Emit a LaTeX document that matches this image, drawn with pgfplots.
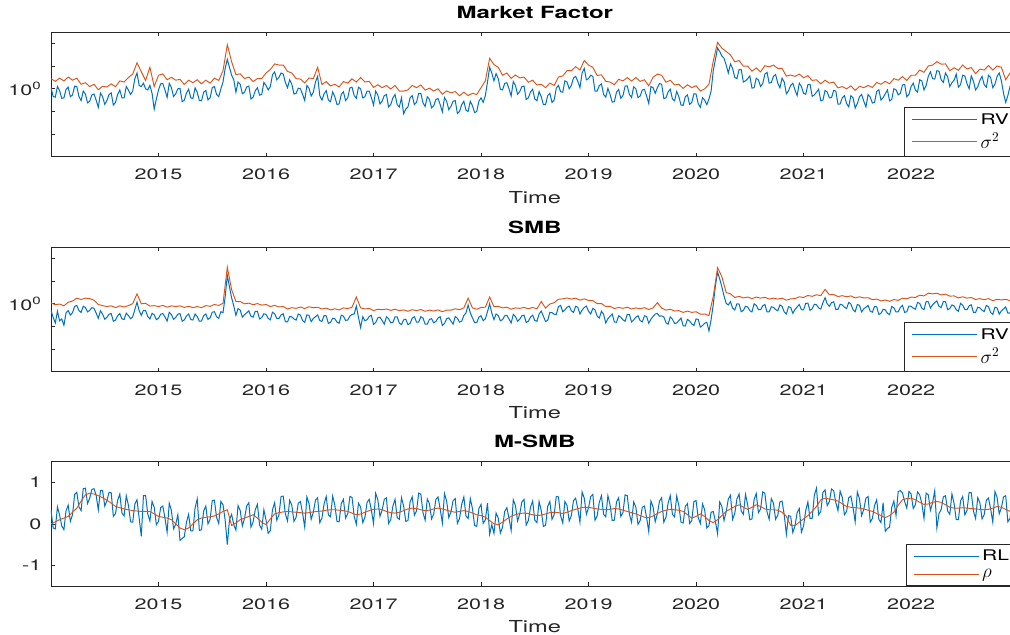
\documentclass[border=0pt]{standalone}
\usepackage{fontspec}
\setmainfont{TeX Gyre Heros}[FakeStretch=1.43]
\usepackage{pgfplots}
\usepackage{pgfplotstable}
\pgfplotsset{compat=1.18}
\definecolor{mblue}{HTML}{0072BD}
\definecolor{morange}{HTML}{D95319}
\definecolor{axgray}{HTML}{262626}

% Market factor: log10 of RV (b) and sigma^2 (o); nan = no sigma^2 sample
\pgfplotstableread{
x b o
2014.00 0.05 0.45
2014.02 -0.34 nan
2014.04 -0.37 0.33
2014.06 0.10 nan
2014.08 -0.08 0.47
2014.10 -0.42 nan
2014.12 -0.40 0.35
2014.14 -0.02 nan
2014.16 0.07 0.52
2014.18 -0.35 nan
2014.20 -0.27 0.38
2014.22 0.12 nan
2014.24 0.10 0.47
2014.26 -0.34 nan
2014.28 -0.52 0.20
2014.30 -0.10 nan
2014.32 -0.23 0.27
2014.34 -0.62 nan
2014.36 -0.55 0.10
2014.38 -0.27 nan
2014.40 -0.23 0.20
2014.42 -0.50 nan
2014.44 -0.82 -0.04
2014.46 -0.19 nan
2014.48 -0.35 0.11
2014.50 -0.69 nan
2014.52 -0.52 0.08
2014.54 -0.25 nan
2014.56 -0.18 0.22
2014.58 -0.72 nan
2014.60 -0.60 0.09
2014.62 -0.25 nan
2014.64 -0.05 0.35
2014.66 -0.40 nan
2014.68 -0.40 0.30
2014.70 0.10 nan
2014.72 -0.05 0.50
2014.74 -0.25 nan
2014.76 -0.10 0.65
2014.78 0.45 nan
2014.80 0.70 1.15
2014.82 0.15 nan
2014.84 0.10 0.75
2014.86 0.25 nan
2014.88 0.00 0.37
2014.90 -0.05 nan
2014.92 0.15 0.95
2014.94 -0.20 nan
2014.96 -0.90 0.10
2014.98 -0.45 nan
2015.00 -0.05 0.60
2015.02 0.22 nan
2015.04 0.23 0.66
2015.06 -0.05 nan
2015.08 -0.38 0.40
2015.10 0.24 nan
2015.12 0.05 0.51
2015.14 -0.34 nan
2015.16 -0.22 0.38
2015.18 0.00 nan
2015.20 0.02 0.42
2015.22 -0.57 nan
2015.24 -0.50 0.19
2015.26 -0.19 nan
2015.28 -0.02 0.38
2015.30 -0.40 nan
2015.32 -0.43 0.27
2015.34 0.04 nan
2015.36 -0.15 0.40
2015.38 -0.52 nan
2015.40 -0.53 0.22
2015.42 -0.15 nan
2015.44 -0.07 0.38
2015.46 -0.49 nan
2015.48 -0.40 0.25
2015.50 0.05 nan
2015.52 0.10 0.47
2015.54 -0.25 nan
2015.56 -0.35 0.37
2015.58 0.00 nan
2015.60 0.30 0.80
2015.62 0.90 nan
2015.64 1.30 1.95
2015.66 0.95 nan
2015.68 0.60 1.20
2015.70 0.40 nan
2015.72 -0.15 0.63
2015.74 0.30 nan
2015.76 0.20 0.66
2015.78 -0.22 nan
2015.80 -0.15 0.45
2015.82 0.08 nan
2015.84 0.12 0.52
2015.86 -0.45 nan
2015.88 -0.37 0.32
2015.90 -0.09 nan
2015.92 0.05 0.45
2015.94 -0.28 nan
2015.96 -0.25 0.45
2015.98 0.28 nan
2016.00 0.15 0.70
2016.02 -0.05 nan
2016.04 0.10 0.85
2016.06 0.62 nan
2016.08 0.75 1.10
2016.10 0.40 nan
2016.12 0.50 1.05
2016.14 0.70 nan
2016.16 0.65 1.05
2016.18 0.28 nan
2016.20 0.05 0.77
2016.22 0.40 nan
2016.24 0.20 0.70
2016.26 -0.23 nan
2016.28 -0.20 0.45
2016.30 0.03 nan
2016.32 0.00 0.43
2016.34 -0.24 nan
2016.36 -0.52 0.26
2016.38 0.15 nan
2016.40 0.02 0.48
2016.42 -0.32 nan
2016.44 -0.15 0.45
2016.46 0.30 nan
2016.48 0.55 0.95
2016.50 -0.30 nan
2016.52 -0.50 0.19
2016.54 -0.22 nan
2016.56 -0.08 0.32
2016.58 -0.50 nan
2016.60 -0.57 0.13
2016.62 -0.14 nan
2016.64 -0.35 0.20
2016.66 -0.69 nan
2016.68 -0.67 0.08
2016.70 -0.25 nan
2016.72 -0.13 0.32
2016.74 -0.52 nan
2016.76 -0.40 0.25
2016.78 0.04 nan
2016.80 0.07 0.44
2016.82 -0.30 nan
2016.84 -0.42 0.30
2016.86 0.07 nan
2016.88 0.00 0.50
2016.90 -0.40 nan
2016.92 -0.35 0.30
2016.94 -0.10 nan
2016.96 -0.10 0.33
2016.98 -0.39 nan
2017.00 -0.72 0.06
2017.02 -0.10 nan
2017.04 -0.28 0.18
2017.06 -0.67 nan
2017.08 -0.55 0.05
2017.10 -0.30 nan
2017.12 -0.25 0.15
2017.14 -0.80 nan
2017.16 -0.70 -0.01
2017.18 -0.40 nan
2017.20 -0.25 0.15
2017.22 -0.70 nan
2017.24 -0.80 -0.10
2017.26 -0.40 nan
2017.28 -1.10 -0.10
2017.30 -0.90 nan
2017.32 -0.80 -0.05
2017.34 -0.40 nan
2017.36 -0.30 0.15
2017.38 -0.70 nan
2017.40 -0.60 0.05
2017.42 -0.20 nan
2017.44 -0.20 0.17
2017.46 -0.62 nan
2017.48 -0.78 -0.06
2017.50 -0.35 nan
2017.52 -0.47 0.03
2017.54 -0.84 nan
2017.56 -0.75 -0.10
2017.58 -0.47 nan
2017.60 -0.43 0.00
2017.62 -0.70 nan
2017.64 -1.02 -0.24
2017.66 -0.39 nan
2017.68 -0.55 -0.09
2017.70 -0.92 nan
2017.72 -0.78 -0.18
2017.74 -0.55 nan
2017.76 -0.52 -0.12
2017.78 -1.09 nan
2017.80 -1.00 -0.31
2017.82 -0.70 nan
2017.84 -0.55 -0.15
2017.86 -0.95 nan
2017.88 -1.00 -0.30
2017.90 -0.55 nan
2017.92 -0.75 -0.20
2017.94 -1.05 nan
2017.96 -1.00 -0.25
2017.98 -0.55 nan
2018.00 -0.40 0.05
2018.02 -0.60 nan
2018.04 -0.30 0.35
2018.06 0.30 nan
2018.08 0.95 1.35
2018.10 0.70 nan
2018.12 0.35 1.07
2018.14 0.67 nan
2018.16 0.45 0.95
2018.18 -0.03 nan
2018.20 -0.05 0.60
2018.22 0.24 nan
2018.24 0.27 0.70
2018.26 0.00 nan
2018.28 -0.32 0.46
2018.30 0.32 nan
2018.32 0.15 0.61
2018.34 -0.24 nan
2018.36 -0.12 0.48
2018.38 0.10 nan
2018.40 0.12 0.52
2018.42 -0.47 nan
2018.44 -0.40 0.29
2018.46 -0.14 nan
2018.48 -0.02 0.38
2018.50 -0.45 nan
2018.52 -0.53 0.17
2018.54 -0.12 nan
2018.56 -0.35 0.20
2018.58 -0.70 nan
2018.60 -0.70 0.05
2018.62 -0.30 nan
2018.64 -0.20 0.25
2018.66 -0.60 nan
2018.68 -0.50 0.15
2018.70 0.03 nan
2018.72 0.15 0.52
2018.74 -0.13 nan
2018.76 -0.15 0.57
2018.78 0.35 nan
2018.80 0.30 0.80
2018.82 0.00 nan
2018.84 0.15 0.80
2018.86 0.48 nan
2018.88 0.55 0.98
2018.90 0.33 nan
2018.92 0.05 0.83
2018.94 0.70 nan
2018.96 0.90 1.25
2018.98 0.40 nan
2019.00 0.45 1.05
2019.02 0.60 nan
2019.04 0.55 0.95
2019.06 -0.10 nan
2019.08 -0.10 0.59
2019.10 0.14 nan
2019.12 0.22 0.62
2019.14 -0.25 nan
2019.16 -0.37 0.33
2019.18 0.02 nan
2019.20 -0.25 0.30
2019.22 -0.59 nan
2019.24 -0.57 0.18
2019.26 -0.15 nan
2019.28 -0.03 0.42
2019.30 -0.42 nan
2019.32 -0.30 0.35
2019.34 0.12 nan
2019.36 0.13 0.50
2019.38 -0.25 nan
2019.40 -0.38 0.34
2019.42 0.09 nan
2019.44 0.00 0.50
2019.46 -0.39 nan
2019.48 -0.32 0.33
2019.50 -0.05 nan
2019.52 -0.03 0.40
2019.54 -0.32 nan
2019.56 -0.65 0.13
2019.58 0.10 nan
2019.60 0.05 0.51
2019.62 -0.20 nan
2019.64 0.05 0.65
2019.66 0.23 nan
2019.68 0.20 0.60
2019.70 -0.43 nan
2019.72 -0.40 0.29
2019.74 -0.14 nan
2019.76 -0.02 0.38
2019.78 -0.45 nan
2019.80 -0.53 0.17
2019.82 -0.12 nan
2019.84 -0.35 0.20
2019.86 -0.72 nan
2019.88 -0.73 0.02
2019.90 -0.35 nan
2019.92 -0.27 0.18
2019.94 -0.69 nan
2019.96 -0.60 0.05
2019.98 -0.22 nan
2020.00 -0.23 0.14
2020.02 -0.65 nan
2020.04 -0.82 -0.10
2020.06 -0.39 nan
2020.08 -0.50 0.00
2020.10 -0.70 nan
2020.12 -0.45 0.20
2020.14 -0.10 nan
2020.16 0.80 1.23
2020.18 1.30 nan
2020.20 1.80 2.05
2020.22 1.65 nan
2020.24 1.45 1.80
2020.26 1.35 nan
2020.28 1.05 1.65
2020.30 0.70 nan
2020.32 1.10 1.50
2020.34 0.90 nan
2020.36 0.50 1.19
2020.38 0.45 nan
2020.40 0.85 1.25
2020.42 0.85 nan
2020.44 0.30 1.00
2020.46 0.35 nan
2020.48 0.45 1.00
2020.50 0.57 nan
2020.52 0.03 0.78
2020.54 0.05 nan
2020.56 0.47 0.92
2020.58 0.39 nan
2020.60 0.10 0.75
2020.62 0.23 nan
2020.64 0.65 1.02
2020.66 0.73 nan
2020.68 0.25 0.97
2020.70 0.28 nan
2020.72 0.55 1.05
2020.74 0.63 nan
2020.76 0.25 0.90
2020.78 0.04 nan
2020.80 0.47 0.90
2020.82 0.30 nan
2020.84 -0.22 0.56
2020.86 -0.09 nan
2020.88 0.15 0.61
2020.90 0.25 nan
2020.92 -0.05 0.55
2020.94 -0.30 nan
2020.96 0.25 0.65
2020.98 0.10 nan
2021.00 -0.20 0.49
2021.02 -0.24 nan
2021.04 0.18 0.58
2021.06 0.20 nan
2021.08 -0.33 0.37
2021.10 -0.27 nan
2021.12 -0.15 0.40
2021.14 -0.02 nan
2021.16 -0.53 0.22
2021.18 -0.50 nan
2021.20 -0.07 0.38
2021.22 -0.14 nan
2021.24 -0.40 0.25
2021.26 -0.39 nan
2021.28 -0.07 0.30
2021.30 -0.10 nan
2021.32 -0.68 0.04
2021.34 -0.67 nan
2021.36 -0.40 0.10
2021.38 -0.30 nan
2021.40 -0.65 0.00
2021.42 -0.80 nan
2021.44 -0.30 0.13
2021.46 -0.40 nan
2021.48 -0.85 -0.07
2021.50 -0.65 nan
2021.52 -0.35 0.11
2021.54 -0.25 nan
2021.56 -0.55 0.05
2021.58 -0.80 nan
2021.60 -0.25 0.15
2021.62 -0.37 nan
2021.64 -0.63 0.06
2021.66 -0.60 nan
2021.68 -0.12 0.28
2021.70 -0.04 nan
2021.72 -0.50 0.20
2021.74 -0.39 nan
2021.76 -0.22 0.33
2021.78 -0.05 nan
2021.80 -0.53 0.22
2021.82 -0.47 nan
2021.84 0.00 0.45
2021.86 -0.04 nan
2021.88 -0.27 0.38
2021.90 -0.20 nan
2021.92 0.17 0.54
2021.94 0.19 nan
2021.96 -0.35 0.37
2021.98 -0.25 nan
2022.00 0.10 0.60
2022.02 0.25 nan
2022.04 -0.05 0.60
2022.06 -0.15 nan
2022.08 0.40 0.83
2022.10 0.35 nan
2022.12 -0.05 0.73
2022.14 0.15 nan
2022.16 0.55 1.01
2022.18 0.75 nan
2022.20 0.45 1.05
2022.22 0.43 nan
2022.24 0.80 1.20
2022.26 0.78 nan
2022.28 0.40 1.09
2022.30 0.28 nan
2022.32 0.70 1.10
2022.34 0.53 nan
2022.36 0.10 0.80
2022.38 0.27 nan
2022.40 0.38 0.93
2022.42 0.65 nan
2022.44 0.07 0.82
2022.46 0.19 nan
2022.48 0.60 1.05
2022.50 0.57 nan
2022.52 0.23 0.88
2022.54 0.00 nan
2022.56 0.57 0.94
2022.58 0.34 nan
2022.60 -0.05 0.67
2022.62 0.09 nan
2022.64 0.37 0.87
2022.66 0.55 nan
2022.68 0.18 0.83
2022.70 0.07 nan
2022.72 0.60 1.03
2022.74 0.50 nan
2022.76 0.05 0.83
2022.78 0.20 nan
2022.80 0.55 1.01
2022.82 0.70 nan
2022.84 0.35 0.95
2022.86 -0.20 nan
2022.88 -0.60 0.40
2022.90 -0.30 nan
2022.92 0.10 0.70
2022.94 0.30 nan
2022.96 0.20 0.75
}\mkt

% SMB
\pgfplotstableread{
x b o
2014.00 -0.30 0.04
2014.02 -0.60 nan
2014.04 -0.85 -0.04
2014.06 -0.33 nan
2014.08 -0.75 -0.01
2014.10 -0.67 nan
2014.12 -0.95 -0.09
2014.14 -0.40 nan
2014.16 -0.30 0.07
2014.18 -0.50 nan
2014.20 -0.39 0.12
2014.22 -0.11 nan
2014.24 -0.07 0.25
2014.26 -0.30 nan
2014.28 -0.38 0.19
2014.30 -0.11 nan
2014.32 -0.16 0.25
2014.34 -0.36 nan
2014.36 -0.29 0.23
2014.38 -0.17 nan
2014.40 -0.20 0.16
2014.42 -0.41 nan
2014.44 -0.64 -0.03
2014.46 -0.31 nan
2014.48 -0.46 -0.08
2014.50 -0.68 nan
2014.52 -0.60 -0.12
2014.54 -0.46 nan
2014.56 -0.43 -0.09
2014.58 -0.77 nan
2014.60 -0.72 -0.17
2014.62 -0.53 nan
2014.64 -0.43 -0.09
2014.66 -0.67 nan
2014.68 -0.69 -0.14
2014.70 -0.41 nan
2014.72 -0.52 -0.08
2014.74 -0.66 nan
2014.76 -0.58 0.01
2014.78 -0.25 nan
2014.80 0.07 0.44
2014.82 -0.30 nan
2014.84 -0.51 0.00
2014.86 -0.29 nan
2014.88 -0.30 0.02
2014.90 -0.56 nan
2014.92 -0.67 -0.10
2014.94 -0.42 nan
2014.96 -0.49 -0.08
2014.98 -0.70 nan
2015.00 -0.64 -0.12
2015.02 -0.46 nan
2015.04 -0.43 -0.07
2015.06 -0.58 nan
2015.08 -0.76 -0.15
2015.10 -0.38 nan
2015.12 -0.47 -0.09
2015.14 -0.69 nan
2015.16 -0.60 -0.12
2015.18 -0.46 nan
2015.20 -0.43 -0.09
2015.22 -0.77 nan
2015.24 -0.71 -0.16
2015.26 -0.54 nan
2015.28 -0.45 -0.11
2015.30 -0.69 nan
2015.32 -0.72 -0.17
2015.34 -0.45 nan
2015.36 -0.56 -0.12
2015.38 -0.77 nan
2015.40 -0.76 -0.17
2015.42 -0.52 nan
2015.44 -0.45 -0.08
2015.46 -0.69 nan
2015.48 -0.62 -0.11
2015.50 -0.37 nan
2015.52 -0.35 -0.03
2015.54 -0.57 nan
2015.56 -0.64 -0.07
2015.58 -0.35 nan
2015.60 -0.39 0.02
2015.62 0.30 nan
2015.64 1.25 1.62
2015.66 0.75 nan
2015.68 0.27 0.63
2015.70 -0.10 nan
2015.72 -0.51 0.10
2015.74 -0.21 nan
2015.76 -0.28 0.10
2015.78 -0.59 nan
2015.80 -0.48 0.00
2015.82 -0.40 nan
2015.84 -0.31 0.03
2015.86 -0.55 nan
2015.88 -0.59 -0.04
2015.90 -0.33 nan
2015.92 -0.33 0.01
2015.94 -0.67 nan
2015.96 -0.61 -0.06
2015.98 -0.44 nan
2016.00 -0.47 -0.03
2016.02 -0.64 nan
2016.04 -0.71 -0.12
2016.06 -0.37 nan
2016.08 -0.44 -0.07
2016.10 -0.64 nan
2016.12 -0.65 -0.14
2016.14 -0.49 nan
2016.16 -0.44 -0.12
2016.18 -0.79 nan
2016.20 -0.80 -0.23
2016.22 -0.56 nan
2016.24 -0.58 -0.17
2016.26 -0.67 nan
2016.28 -0.72 -0.20
2016.30 -0.45 nan
2016.32 -0.50 -0.14
2016.34 -0.74 nan
2016.36 -0.82 -0.21
2016.38 -0.49 nan
2016.40 -0.51 -0.13
2016.42 -0.79 nan
2016.44 -0.65 -0.17
2016.46 -0.57 nan
2016.48 -0.49 -0.15
2016.50 -0.74 nan
2016.52 -0.78 -0.23
2016.54 -0.52 nan
2016.56 -0.53 -0.19
2016.58 -0.87 nan
2016.60 -0.82 -0.27
2016.62 -0.64 nan
2016.64 -0.66 -0.22
2016.66 -0.81 nan
2016.68 -0.86 -0.27
2016.70 -0.50 nan
2016.72 -0.55 -0.18
2016.74 -0.73 nan
2016.76 -0.72 -0.21
2016.78 -0.54 nan
2016.80 -0.47 -0.15
2016.82 -0.45 nan
2016.84 -0.10 0.30
2016.86 -0.60 nan
2016.88 -1.05 -0.18
2016.90 -0.57 nan
2016.92 -0.75 -0.23
2016.94 -0.70 nan
2016.96 -0.56 -0.20
2016.98 -0.51 nan
2017.00 -0.91 -0.30
2017.02 -0.83 nan
2017.04 -0.62 -0.24
2017.06 -0.59 nan
2017.08 -0.74 -0.26
2017.10 -0.90 nan
2017.12 -0.57 -0.23
2017.14 -0.66 nan
2017.16 -0.84 -0.29
2017.18 -0.82 nan
2017.20 -0.58 -0.24
2017.22 -0.58 nan
2017.24 -0.85 -0.30
2017.26 -0.92 nan
2017.28 -0.71 -0.27
2017.30 -0.68 nan
2017.32 -0.92 -0.33
2017.34 -0.87 nan
2017.36 -0.63 -0.26
2017.38 -0.57 nan
2017.40 -0.81 -0.30
2017.42 -0.81 nan
2017.44 -0.57 -0.25
2017.46 -0.63 nan
2017.48 -0.90 -0.33
2017.50 -0.90 nan
2017.52 -0.69 -0.28
2017.54 -0.66 nan
2017.56 -0.84 -0.32
2017.58 -0.78 nan
2017.60 -0.63 -0.27
2017.62 -0.57 nan
2017.64 -0.96 -0.35
2017.66 -0.87 nan
2017.68 -0.66 -0.28
2017.70 -0.62 nan
2017.72 -0.76 -0.28
2017.74 -0.90 nan
2017.76 -0.56 -0.22
2017.78 -0.64 nan
2017.80 -0.81 -0.26
2017.82 -0.77 nan
2017.84 -0.52 -0.18
2017.86 -0.40 nan
2017.88 -0.05 0.25
2017.90 -0.40 nan
2017.92 -0.62 -0.18
2017.94 -0.83 nan
2017.96 -0.83 -0.24
2017.98 -0.59 nan
2018.00 -0.53 -0.16
2018.02 -0.75 nan
2018.04 -0.66 -0.15
2018.06 -0.35 nan
2018.08 0.00 0.30
2018.10 -0.40 nan
2018.12 -0.70 -0.13
2018.14 -0.45 nan
2018.16 -0.52 -0.11
2018.18 -0.75 nan
2018.20 -0.70 -0.18
2018.22 -0.53 nan
2018.24 -0.51 -0.15
2018.26 -0.67 nan
2018.28 -0.85 -0.24
2018.30 -0.47 nan
2018.32 -0.56 -0.18
2018.34 -0.77 nan
2018.36 -0.68 -0.20
2018.38 -0.53 nan
2018.40 -0.50 -0.16
2018.42 -0.83 nan
2018.44 -0.77 -0.22
2018.46 -0.59 nan
2018.48 -0.50 -0.16
2018.50 -0.74 nan
2018.52 -0.77 -0.22
2018.54 -0.45 nan
2018.56 -0.32 0.10
2018.58 -0.55 nan
2018.60 -0.78 -0.19
2018.62 -0.73 nan
2018.64 -0.38 -0.01
2018.66 -0.39 nan
2018.68 -0.46 0.05
2018.70 -0.47 nan
2018.72 -0.12 0.20
2018.74 -0.07 nan
2018.76 -0.35 0.22
2018.78 -0.27 nan
2018.80 -0.15 0.26
2018.82 -0.10 nan
2018.84 -0.31 0.21
2018.86 -0.38 nan
2018.88 -0.11 0.25
2018.90 -0.15 nan
2018.92 -0.45 0.16
2018.94 -0.28 nan
2018.96 -0.16 0.22
2018.98 -0.10 nan
2019.00 -0.33 0.15
2019.02 -0.45 nan
2019.04 -0.20 0.14
2019.06 -0.27 nan
2019.08 -0.54 0.01
2019.10 -0.63 nan
2019.12 -0.33 0.01
2019.14 -0.46 nan
2019.16 -0.85 -0.12
2019.18 -0.66 nan
2019.20 -0.55 -0.11
2019.22 -0.45 nan
2019.24 -0.80 -0.21
2019.26 -0.82 nan
2019.28 -0.53 -0.16
2019.30 -0.59 nan
2019.32 -0.71 -0.20
2019.34 -0.77 nan
2019.36 -0.47 -0.15
2019.38 -0.47 nan
2019.40 -0.80 -0.23
2019.42 -0.71 nan
2019.44 -0.59 -0.18
2019.46 -0.53 nan
2019.48 -0.74 -0.22
2019.50 -0.80 nan
2019.52 -0.53 -0.17
2019.54 -0.56 nan
2019.56 -0.86 -0.25
2019.58 -0.68 nan
2019.60 -0.56 -0.18
2019.62 -0.45 nan
2019.64 -0.43 0.05
2019.66 -0.55 nan
2019.68 -0.53 -0.19
2019.70 -0.58 nan
2019.72 -0.83 -0.28
2019.74 -0.90 nan
2019.76 -0.58 -0.24
2019.78 -0.68 nan
2019.80 -0.87 -0.32
2019.82 -0.85 nan
2019.84 -0.74 -0.30
2019.86 -0.63 nan
2019.88 -0.97 -0.38
2019.90 -0.98 nan
2019.92 -0.69 -0.32
2019.94 -0.76 nan
2019.96 -0.89 -0.38
2019.98 -0.96 nan
2020.00 -0.67 -0.35
2020.02 -0.69 nan
2020.04 -1.03 -0.46
2020.06 -0.96 nan
2020.08 -0.86 -0.45
2020.10 -0.82 nan
2020.12 -1.20 -0.52
2020.14 -0.70 nan
2020.16 -0.03 0.33
2020.18 0.80 nan
2020.20 1.40 1.60
2020.22 1.10 nan
2020.24 0.75 1.20
2020.26 0.35 nan
2020.28 0.02 0.50
2020.30 -0.05 nan
2020.32 0.10 0.44
2020.34 -0.19 nan
2020.36 -0.27 0.28
2020.38 0.00 nan
2020.40 -0.01 0.33
2020.42 -0.35 nan
2020.44 -0.29 0.26
2020.46 -0.11 nan
2020.48 -0.14 0.30
2020.50 -0.30 nan
2020.52 -0.36 0.23
2020.54 0.00 nan
2020.56 -0.07 0.30
2020.58 -0.26 nan
2020.60 -0.26 0.25
2020.62 -0.09 nan
2020.64 -0.03 0.29
2020.66 -0.36 nan
2020.68 -0.36 0.21
2020.70 -0.13 nan
2020.72 -0.16 0.25
2020.74 -0.25 nan
2020.76 -0.31 0.21
2020.78 -0.05 nan
2020.80 -0.11 0.25
2020.82 -0.36 nan
2020.84 -0.45 0.16
2020.86 -0.13 nan
2020.88 -0.16 0.22
2020.90 -0.42 nan
2020.92 -0.25 0.23
2020.94 -0.14 nan
2020.96 -0.03 0.31
2020.98 -0.26 nan
2021.00 -0.27 0.28
2021.02 0.02 nan
2021.04 0.03 0.37
2021.06 -0.29 nan
2021.08 -0.22 0.33
2021.10 -0.02 nan
2021.12 -0.04 0.40
2021.14 -0.18 nan
2021.16 -0.23 0.36
2021.18 0.05 nan
2021.20 0.27 0.64
2021.22 0.00 nan
2021.24 -0.11 0.40
2021.26 0.05 nan
2021.28 0.09 0.41
2021.30 -0.25 nan
2021.32 -0.25 0.32
2021.34 -0.02 nan
2021.36 -0.05 0.36
2021.38 -0.15 nan
2021.40 -0.21 0.31
2021.42 0.06 nan
2021.44 -0.01 0.35
2021.46 -0.26 nan
2021.48 -0.35 0.26
2021.50 -0.03 nan
2021.52 -0.07 0.31
2021.54 -0.36 nan
2021.56 -0.22 0.26
2021.58 -0.15 nan
2021.60 -0.07 0.27
2021.62 -0.33 nan
2021.64 -0.37 0.18
2021.66 -0.12 nan
2021.68 -0.13 0.21
2021.70 -0.47 nan
2021.72 -0.42 0.13
2021.74 -0.24 nan
2021.76 -0.27 0.17
2021.78 -0.42 nan
2021.80 -0.48 0.11
2021.82 -0.12 nan
2021.84 -0.18 0.19
2021.86 -0.36 nan
2021.88 -0.36 0.15
2021.90 -0.16 nan
2021.92 -0.07 0.25
2021.94 -0.38 nan
2021.96 -0.35 0.22
2021.98 -0.10 nan
2022.00 -0.11 0.30
2022.02 -0.19 nan
2022.04 -0.24 0.28
2022.06 0.06 nan
2022.08 0.02 0.38
2022.10 -0.20 nan
2022.12 -0.26 0.35
2022.14 0.10 nan
2022.16 0.09 0.47
2022.18 -0.19 nan
2022.20 -0.04 0.44
2022.22 0.05 nan
2022.24 0.13 0.47
2022.26 -0.12 nan
2022.28 -0.16 0.39
2022.30 0.10 nan
2022.32 0.09 0.43
2022.34 -0.26 nan
2022.36 -0.21 0.34
2022.38 -0.05 nan
2022.40 -0.09 0.35
2022.42 -0.26 nan
2022.44 -0.33 0.26
2022.46 0.02 nan
2022.48 -0.06 0.31
2022.50 -0.25 nan
2022.52 -0.26 0.25
2022.54 -0.09 nan
2022.56 -0.04 0.28
2022.58 -0.38 nan
2022.60 -0.38 0.19
2022.62 -0.15 nan
2022.64 -0.18 0.23
2022.66 -0.28 nan
2022.68 -0.34 0.18
2022.70 -0.07 nan
2022.72 -0.13 0.23
2022.74 -0.38 nan
2022.76 -0.47 0.14
2022.78 -0.15 nan
2022.80 -0.18 0.20
2022.82 -0.46 nan
2022.84 -0.31 0.17
2022.86 -0.23 nan
2022.88 -0.14 0.20
2022.90 -0.41 nan
2022.92 -0.41 0.14
2022.94 -0.12 nan
2022.96 -0.15 0.19
}\smb

% M-SMB: RL (b) and rho (o)
\pgfplotstableread{
x b o
2014.00 0.33 0.00
2014.02 -0.10 nan
2014.04 -0.12 0.05
2014.06 0.41 nan
2014.08 0.21 0.10
2014.10 -0.05 nan
2014.12 -0.14 0.14
2014.14 0.32 nan
2014.16 0.45 0.18
2014.18 0.06 nan
2014.20 0.22 0.28
2014.22 0.71 nan
2014.24 0.76 0.38
2014.26 0.41 nan
2014.28 0.32 0.55
2014.30 0.85 nan
2014.32 0.86 0.70
2014.34 0.49 nan
2014.36 0.62 0.74
2014.38 0.83 nan
2014.40 0.85 0.72
2014.42 0.69 nan
2014.44 0.34 0.68
2014.46 0.80 nan
2014.48 0.80 0.63
2014.50 0.43 nan
2014.52 0.56 0.57
2014.54 0.76 nan
2014.56 0.75 0.50
2014.58 0.18 nan
2014.60 0.25 0.42
2014.62 0.57 nan
2014.64 0.72 0.39
2014.66 0.26 nan
2014.68 0.19 0.36
2014.70 0.68 nan
2014.72 0.45 0.34
2014.74 0.05 nan
2014.76 0.04 0.32
2014.78 0.48 nan
2014.80 0.58 0.31
2014.82 0.14 nan
2014.84 -0.30 0.30
2014.86 0.68 nan
2014.88 0.68 0.30
2014.90 0.24 nan
2014.92 0.07 0.30
2014.94 0.54 nan
2014.96 0.40 0.24
2014.98 -0.02 nan
2015.00 0.06 0.18
2015.02 0.39 nan
2015.04 0.43 0.16
2015.06 0.14 nan
2015.08 -0.20 0.14
2015.10 0.50 nan
2015.12 0.32 0.10
2015.14 -0.12 nan
2015.16 -0.01 0.00
2015.18 0.22 nan
2015.20 -0.40 -0.10
2015.22 -0.35 nan
2015.24 -0.31 -0.14
2015.26 0.04 nan
2015.28 0.23 -0.10
2015.30 -0.17 nan
2015.32 -0.17 0.00
2015.34 0.38 nan
2015.36 0.60 0.10
2015.38 -0.16 nan
2015.40 -0.14 0.14
2015.42 0.31 nan
2015.44 0.43 0.16
2015.46 0.00 nan
2015.48 0.11 0.17
2015.50 0.56 nan
2015.52 0.57 0.19
2015.54 0.16 nan
2015.56 0.01 0.24
2015.58 0.54 nan
2015.60 0.46 0.30
2015.62 0.09 nan
2015.64 -0.50 0.34
2015.66 0.10 nan
2015.68 0.23 -0.04
2015.70 -0.02 nan
2015.72 -0.15 0.02
2015.74 0.44 nan
2015.76 0.32 0.10
2015.78 -0.05 nan
2015.80 0.13 0.14
2015.82 0.43 nan
2015.84 0.51 0.18
2015.86 -0.08 nan
2015.88 0.05 0.22
2015.90 0.34 nan
2015.92 0.47 0.14
2015.94 -0.03 nan
2015.96 -0.13 0.04
2015.98 0.34 nan
2016.00 0.09 -0.02
2016.02 -0.23 nan
2016.04 -0.16 0.12
2016.06 0.34 nan
2016.08 0.51 0.24
2016.10 0.09 nan
2016.12 0.21 0.27
2016.14 0.66 nan
2016.16 0.67 0.29
2016.18 0.24 nan
2016.20 0.07 0.30
2016.22 0.57 nan
2016.24 0.45 0.29
2016.26 0.06 nan
2016.28 0.16 0.28
2016.30 0.50 nan
2016.32 0.54 0.27
2016.34 0.26 nan
2016.36 -0.08 0.26
2016.38 0.65 nan
2016.40 0.49 0.27
2016.42 0.11 nan
2016.44 0.28 0.29
2016.46 0.57 nan
2016.48 0.63 0.30
2016.50 0.03 nan
2016.52 0.14 0.31
2016.54 0.48 nan
2016.56 0.66 0.33
2016.58 0.22 nan
2016.60 0.17 0.34
2016.62 0.67 nan
2016.64 0.45 0.34
2016.66 0.06 nan
2016.68 0.05 0.33
2016.70 0.49 nan
2016.72 0.59 0.32
2016.74 0.14 nan
2016.76 0.24 0.30
2016.78 0.66 nan
2016.80 0.64 0.26
2016.82 0.18 nan
2016.84 -0.01 0.22
2016.86 0.50 nan
2016.88 0.40 0.24
2016.90 0.03 nan
2016.92 0.16 0.28
2016.94 0.52 nan
2016.96 0.59 0.32
2016.98 0.33 nan
2017.00 0.01 0.35
2017.02 0.74 nan
2017.04 0.58 0.36
2017.06 0.18 nan
2017.08 0.33 0.34
2017.10 0.59 nan
2017.12 0.63 0.30
2017.14 0.01 nan
2017.16 0.10 0.27
2017.18 0.43 nan
2017.20 0.59 0.26
2017.22 0.15 nan
2017.24 0.11 0.28
2017.26 0.63 nan
2017.28 0.43 0.32
2017.30 0.06 nan
2017.32 0.08 0.36
2017.34 0.53 nan
2017.36 0.65 0.38
2017.38 0.21 nan
2017.40 0.31 0.37
2017.42 0.74 nan
2017.44 0.72 0.34
2017.46 0.27 nan
2017.48 0.09 0.32
2017.50 0.60 nan
2017.52 0.49 0.33
2017.54 0.12 nan
2017.56 0.24 0.36
2017.58 0.59 nan
2017.60 0.65 0.38
2017.62 0.36 nan
2017.64 0.02 0.36
2017.66 0.73 nan
2017.68 0.55 0.33
2017.70 0.15 nan
2017.72 0.29 0.30
2017.74 0.56 nan
2017.76 0.61 0.28
2017.78 0.01 nan
2017.80 0.13 0.30
2017.82 0.47 nan
2017.84 0.65 0.32
2017.86 0.19 nan
2017.88 0.13 0.30
2017.90 0.61 nan
2017.92 0.37 0.26
2017.94 -0.04 nan
2017.96 -0.06 0.22
2017.98 0.37 nan
2018.00 0.47 0.20
2018.02 0.01 nan
2018.04 0.10 0.16
2018.06 0.50 nan
2018.08 -0.25 0.08
2018.10 -0.02 nan
2018.12 -0.23 0.00
2018.14 0.26 nan
2018.16 0.14 -0.02
2018.18 -0.22 nan
2018.20 -0.08 0.04
2018.22 0.30 nan
2018.24 0.39 0.12
2018.26 0.14 nan
2018.28 -0.16 0.18
2018.30 0.58 nan
2018.32 0.44 0.22
2018.34 0.07 nan
2018.36 0.24 0.25
2018.38 0.53 nan
2018.40 0.59 0.26
2018.42 -0.03 nan
2018.44 0.08 0.25
2018.46 0.40 nan
2018.48 0.55 0.22
2018.50 0.09 nan
2018.52 0.03 0.20
2018.54 0.54 nan
2018.56 0.32 0.21
2018.58 -0.06 nan
2018.60 -0.04 0.24
2018.62 0.42 nan
2018.64 0.54 0.27
2018.66 0.11 nan
2018.68 0.22 0.28
2018.70 0.66 nan
2018.72 0.65 0.27
2018.74 0.20 nan
2018.76 0.02 0.25
2018.78 0.54 nan
2018.80 0.44 0.28
2018.82 0.07 nan
2018.84 0.20 0.32
2018.86 0.56 nan
2018.88 0.62 0.35
2018.90 0.36 nan
2018.92 0.04 0.38
2018.94 0.77 nan
2018.96 0.62 0.40
2018.98 0.23 nan
2019.00 0.39 0.40
2019.02 0.66 nan
2019.04 0.71 0.38
2019.06 0.09 nan
2019.08 0.19 0.36
2019.10 0.52 nan
2019.12 0.68 0.35
2019.14 0.23 nan
2019.16 0.17 0.34
2019.18 0.68 nan
2019.20 0.46 0.35
2019.22 0.08 nan
2019.24 0.09 0.37
2019.26 0.53 nan
2019.28 0.63 0.36
2019.30 0.18 nan
2019.32 0.27 0.33
2019.34 0.70 nan
2019.36 0.68 0.30
2019.38 0.23 nan
2019.40 0.04 0.27
2019.42 0.53 nan
2019.44 0.40 0.24
2019.46 -0.01 nan
2019.48 0.08 0.20
2019.50 0.40 nan
2019.52 0.43 0.16
2019.54 0.15 nan
2019.56 -0.19 0.15
2019.58 0.55 nan
2019.60 0.41 0.19
2019.62 0.05 nan
2019.64 0.24 0.25
2019.66 0.55 nan
2019.68 0.63 0.30
2019.70 0.04 nan
2019.72 0.16 0.33
2019.74 0.50 nan
2019.76 0.68 0.35
2019.78 0.23 nan
2019.80 0.17 0.34
2019.82 0.67 nan
2019.84 0.44 0.33
2019.86 0.04 nan
2019.88 0.02 0.30
2019.90 0.42 nan
2019.92 0.49 0.22
2019.94 0.01 nan
2019.96 0.08 0.14
2019.98 0.54 nan
2020.00 0.56 0.18
2020.02 0.15 nan
2020.04 0.01 0.24
2020.06 0.48 nan
2020.08 0.34 0.18
2020.10 -0.10 nan
2020.12 -0.04 0.08
2020.14 0.28 nan
2020.16 0.30 0.03
2020.18 0.06 nan
2020.20 -0.24 0.10
2020.22 0.53 nan
2020.24 0.42 0.20
2020.26 0.08 nan
2020.28 0.29 0.30
2020.30 0.60 nan
2020.32 0.69 0.36
2020.34 0.11 nan
2020.36 0.25 0.42
2020.38 0.60 nan
2020.40 0.72 0.46
2020.42 0.31 nan
2020.44 0.23 0.40
2020.46 0.71 nan
2020.48 0.46 0.35
2020.50 0.10 nan
2020.52 0.12 0.40
2020.54 0.59 nan
2020.56 0.73 0.46
2020.58 0.27 nan
2020.60 0.36 0.42
2020.62 0.77 nan
2020.64 0.74 0.36
2020.66 0.29 nan
2020.68 0.11 0.34
2020.70 0.61 nan
2020.72 0.50 0.34
2020.74 0.11 nan
2020.76 0.21 0.33
2020.78 0.53 nan
2020.80 0.55 0.28
2020.82 0.22 nan
2020.84 -0.25 0.18
2020.86 0.20 nan
2020.88 0.18 -0.04
2020.90 -0.21 nan
2020.92 -0.05 -0.04
2020.94 0.27 nan
2020.96 0.37 0.04
2020.98 -0.20 nan
2021.00 -0.05 0.12
2021.02 0.32 nan
2021.04 0.53 0.20
2021.06 0.13 nan
2021.08 0.13 0.30
2021.10 0.69 nan
2021.12 0.86 0.42
2021.14 0.22 nan
2021.16 0.30 0.58
2021.18 0.76 nan
2021.20 0.82 0.62
2021.22 0.44 nan
2021.24 0.54 0.60
2021.26 0.84 nan
2021.28 0.80 0.58
2021.30 0.51 nan
2021.32 0.32 0.55
2021.34 0.79 nan
2021.36 0.64 0.48
2021.38 0.22 nan
2021.40 0.30 0.42
2021.42 0.63 nan
2021.44 0.67 0.40
2021.46 0.39 nan
2021.48 0.05 0.39
2021.50 0.77 nan
2021.52 0.60 0.38
2021.54 0.20 nan
2021.56 0.35 0.36
2021.58 0.62 nan
2021.60 0.66 0.33
2021.62 0.04 nan
2021.64 0.13 0.30
2021.66 0.44 nan
2021.68 0.58 0.25
2021.70 0.11 nan
2021.72 0.03 0.20
2021.74 0.51 nan
2021.76 -0.18 0.15
2021.78 -0.11 nan
2021.80 -0.08 0.20
2021.82 0.40 nan
2021.84 0.55 0.28
2021.86 0.20 nan
2021.88 0.78 0.45
2021.90 0.80 nan
2021.92 0.75 0.58
2021.94 0.54 nan
2021.96 0.38 0.61
2021.98 0.78 nan
2022.00 0.72 0.62
2022.02 0.37 nan
2022.04 0.46 0.58
2022.06 0.77 nan
2022.08 0.70 0.52
2022.10 0.49 nan
2022.12 0.13 0.47
2022.14 0.74 nan
2022.16 0.70 0.48
2022.18 0.33 nan
2022.20 0.51 0.52
2022.22 0.80 nan
2022.24 -0.10 0.54
2022.26 0.25 nan
2022.28 0.35 0.52
2022.30 0.65 nan
2022.32 0.68 0.46
2022.34 0.31 nan
2022.36 0.23 0.40
2022.38 0.72 nan
2022.40 0.49 0.38
2022.42 0.10 nan
2022.44 0.10 0.38
2022.46 0.55 nan
2022.48 0.66 0.39
2022.50 0.22 nan
2022.52 0.32 0.38
2022.54 0.76 nan
2022.56 0.75 0.37
2022.58 0.31 nan
2022.60 0.13 0.36
2022.62 0.63 nan
2022.64 0.51 0.35
2022.66 0.12 nan
2022.68 0.22 0.34
2022.70 0.57 nan
2022.72 0.62 0.35
2022.74 0.36 nan
2022.76 0.04 0.38
2022.78 0.78 nan
2022.80 0.64 0.42
2022.82 0.24 nan
2022.84 0.39 0.40
2022.86 0.65 nan
2022.88 0.68 0.35
2022.90 0.05 nan
2022.92 0.13 0.30
2022.94 0.46 nan
2022.96 0.63 0.30
}\msmb

\pgfplotsset{
  panel/.style={
    scale only axis, width=725.7pt, height=93.3pt,
    xmin=2014, xmax=2023,
    xtick={2015,2016,2017,2018,2019,2020,2021,2022},
    xticklabels={2015,2016,2017,2018,2019,2020,2021,2022},
    /pgf/number format/assume math mode=true,
    unbounded coords=discard,
    tick align=inside, major tick length=3pt, minor tick length=3pt,
    axis line style={draw=axgray, line width=0.5pt},
    every tick/.style={axgray, line width=0.5pt},
    ticklabel style={font=\fontsize{11.3}{13}\selectfont, text=axgray},
    xticklabel style={anchor=base, yshift=-17.5pt, inner sep=0pt},
    yticklabel style={anchor=east, xshift=-7pt, inner sep=0pt},
    title style={at={(0.5,1)}, anchor=base, yshift=4.6pt,
      font=\fontsize{12.6}{14}\selectfont\bfseries},
    xlabel={Time},
    xlabel style={at={(0.5,0)}, anchor=base, yshift=-34.9pt,
      font=\fontsize{12.4}{14}\selectfont, text=axgray},
    legend cell align=left,
    legend style={at={(rel axis cs:1,0)}, anchor=south east,
      draw=axgray, line width=0.5pt, fill=white,
      font=\fontsize{11}{13}\selectfont,
      inner xsep=5pt, inner ysep=2.5pt, row sep=1pt},
  },
  logpanel/.style={panel, ymin=-3, ymax=2.5, ytick={0},
    yticklabels={{10\textsuperscript{0}}}, minor ytick={-2,-1,1,2}},
  bluekey/.style={legend image code/.code={\draw[mblue, line width=0.9pt] (0pt,0pt) -- (49pt,0pt);}},
  orangekey/.style={legend image code/.code={\draw[morange, line width=0.9pt] (0pt,0pt) -- (49pt,0pt);}},
}
\newcommand{\mathkey}[1]{{\fontsize{14}{14}\selectfont$#1$}}

\begin{document}
\begin{tikzpicture}
\begin{axis}[logpanel, at={(0pt,0pt)}, anchor=north west, title={Market Factor}]
  \addplot[mblue, line width=0.75pt, forget plot] table[x=x, y=b] {\mkt};
  \addplot[morange, line width=0.7pt, forget plot] table[x=x, y=o] {\mkt};
  \addlegendimage{bluekey}
  \addlegendentry{RV}
  \addlegendimage{orangekey}
  \addlegendentry{\mathkey{\sigma^2}}
\end{axis}
\begin{axis}[logpanel, at={(0pt,-161.25pt)}, anchor=north west, title={SMB}]
  \addplot[mblue, line width=0.75pt, forget plot] table[x=x, y=b] {\smb};
  \addplot[morange, line width=0.7pt, forget plot] table[x=x, y=o] {\smb};
  \addlegendimage{bluekey}
  \addlegendentry{RV}
  \addlegendimage{orangekey}
  \addlegendentry{\mathkey{\sigma^2}}
\end{axis}
\begin{axis}[panel, at={(0pt,-322.05pt)}, anchor=north west, title={M-SMB},
  ymin=-1.5, ymax=1.5, ytick={-1,0,1}, yticklabels={-1,0,1}]
  \addplot[mblue, line width=0.75pt, forget plot] table[x=x, y=b] {\msmb};
  \addplot[morange, line width=0.7pt, forget plot] table[x=x, y=o] {\msmb};
  \addlegendimage{bluekey}
  \addlegendentry{RL}
  \addlegendimage{orangekey}
  \addlegendentry{\mathkey{\rho}}
\end{axis}
\pgfresetboundingbox
\path[use as bounding box] (-38.25pt,24.2pt) rectangle (719.25pt,-452pt);
\end{tikzpicture}
\end{document}
